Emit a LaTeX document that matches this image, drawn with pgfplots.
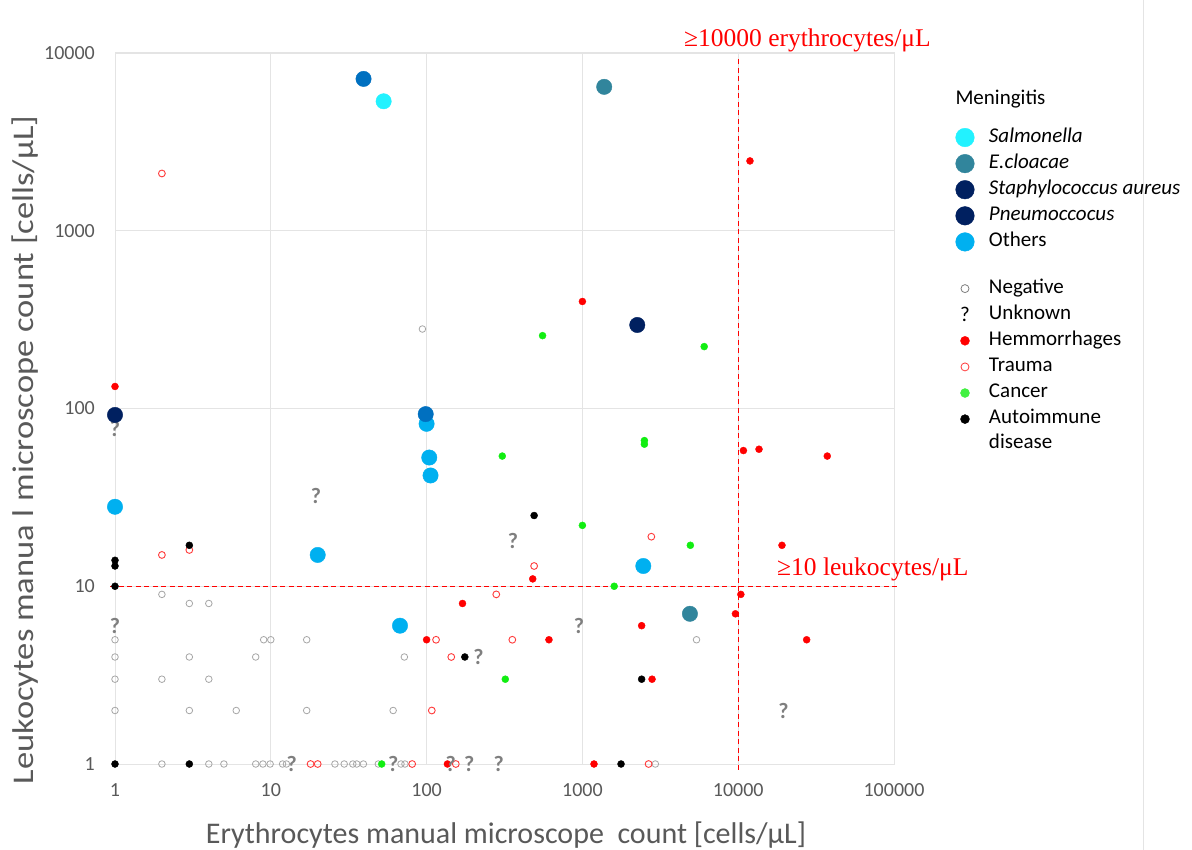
\documentclass[border=0pt]{standalone}
\usepackage{fontspec}
\setmainfont{Carlito}
\newfontfamily\timesfont{Liberation Serif}
\usepackage{graphicx}
\usepackage{pgfplots}
\pgfplotsset{compat=1.18}
\usetikzlibrary{plotmarks}
\definecolor{labgray}{HTML}{595959}
\definecolor{gridgray}{HTML}{E4E4E4}
\definecolor{salm}{HTML}{22F2FF}
\definecolor{ecl}{HTML}{31859C}
\definecolor{navy}{HTML}{002060}
\definecolor{midblue}{HTML}{0070C0}
\definecolor{others}{HTML}{00B0F0}
\definecolor{neg}{HTML}{A6A6A6}
\definecolor{qgray}{HTML}{7F7F7F}
\definecolor{hem}{HTML}{FF0000}
\definecolor{trauma}{HTML}{FF3B3B}
\definecolor{cancer}{HTML}{11EE11}
\newcommand\lab{\fontsize{30}{36}\selectfont}
\begin{document}
\begin{tikzpicture}
\useasboundingbox (0pt,0pt) rectangle (1192pt,-850pt);
\fill[white] (0pt,0pt) rectangle (1192pt,-850pt);
\draw[gridgray, line width=1pt] (1143pt,0pt) -- (1143pt,-850pt);
\begin{axis}[
  at={(115pt,-764pt)}, anchor=south west,
  scale only axis, width=779pt, height=711pt,
  xmode=log, ymode=log,
  xmin=1, xmax=100000, ymin=1, ymax=10000,
  xtick={1,10,100,1000,10000,100000},
  xticklabels={1,10,100,1000,10000,100000},
  ytick={1,10,100,1000,10000},
  yticklabels={1,10,100,1000,10000},
  xminorticks=false, yminorticks=false,
  major tick length=0pt,
  grid=major, grid style={gridgray, line width=0.8pt},
  axis line style={draw=gridgray, line width=1pt},
  tick label style={font=\fontsize{20}{20}\selectfont, text=labgray, inner sep=0pt},
  xticklabel style={anchor=north, yshift=-19pt},
  yticklabel style={anchor=east, xshift=-20pt},
  clip=false,
  legend image code/.code={\path[draw=none,fill=none] (-10pt,-9.5pt) rectangle (10pt,9.5pt); \draw[#1,/tikz/only marks] plot coordinates {(0pt,0pt)};},
  legend style={draw=none, fill=none, at={(1.0783,0.8945)}, anchor=north west,
    inner sep=0pt, outer sep=0pt, row sep=7.1pt, column sep=14pt,
    font=\fontsize{21}{25}\selectfont, cells={anchor=west},
    nodes={inner sep=0pt, text height=14pt, text depth=5pt}},
  legend cell align=left,
]
% Negative
\addplot[forget plot, only marks, mark=o, mark size=3.3pt, color=neg, line width=0.8pt] coordinates {
(1,5)(1,4)(1,3)(1,2)(2,9)(3,8)(4,8)(2,3)(4,3)(3,4)(8,4)(9,5)(10,5)(17,5)(72,4)(3,2)(6,2)(17,2)(61,2)(94,280)(5400,5)(2940,1)
(2,1)(4,1)(5,1)(8,1)(8.9,1)(9.9,1)(11.9,1)(12.6,1)(25.8,1)(29.6,1)(33.6,1)(35.6,1)(39.3,1)(49,1)(68.5,1)(72.6,1)};
% Trauma
\addplot[forget plot, only marks, mark=o, mark size=3.4pt, color=trauma, line width=0.9pt] coordinates {
(2,2100)(2,15)(3,16)(490,13)(2770,19)(280,9)(115,5)(355,5)(144,4)(108,2)(18,1)(20,1)(80.8,1)(154,1)(2660,1)};
% Hemorrhages
\addplot[forget plot, only marks, mark=*, mark size=3.5pt, color=hem] coordinates {
(1,133)(1000,400)(11900,2470)(10800,58)(13600,59)(37300,54)(19100,17)(480,11)(10400,9)(170,8)(9600,7)(2400,6)(100,5)(610,5)(27500,5)(2800,3)(136,1)(1187,1)};
% Cancer
\addplot[forget plot, only marks, mark=*, mark size=3.5pt, color=cancer] coordinates {
(555,257)(6050,223)(2500,63)(2500,66)(306,54)(1000,22)(4930,17)(1600,10)(320,3)(51.5,1)};
% Autoimmune
\addplot[forget plot, only marks, mark=*, mark size=3.5pt, color=black] coordinates {
(1,14)(1,13)(1,10)(3,17)(490,25)(176,4)(2400,3)(1,1)(3,1)(1770,1)};
% Unknown
\addplot[forget plot, only marks, mark=text, text mark={\textcolor{qgray}{\bfseries\fontsize{22}{22}\selectfont ?}}] coordinates {
(1,6)(1,77)(19.5,32)(359,18)(215,4)(950,6)(19500,2)(13.6,1)(61,1)(143,1)(188,1)(290,1)};
% Others
\addplot[forget plot, only marks, mark=*, mark size=7.7pt, color=others] coordinates {
(1,28)(20,15)(67.5,6)(100,82)(104,53)(106,42)(2460,13)};
% Salmonella
\addplot[forget plot, only marks, mark=*, mark size=7.7pt, color=salm] coordinates {(53,5350)};
% E. cloacae
\addplot[forget plot, only marks, mark=*, mark size=7.7pt, color=ecl] coordinates {(1380,6450)(4900,7)};
% other blue
\addplot[forget plot, only marks, mark=*, mark size=7.7pt, color=midblue] coordinates {(39.4,7150)(98.7,93)};
% Staphylococcus aureus
\addplot[forget plot, only marks, mark=*, mark size=7.7pt, color=navy] coordinates {(2250,295)};
% Pneumococcus
\addplot[forget plot, only marks, mark=*, mark size=7.7pt, color=navy] coordinates {(1,92)};

\draw[hem, line width=1.1pt, dash pattern=on 5pt off 3.5pt] (axis cs:10000,0.93) -- (axis cs:10000,9500);
\draw[hem, line width=1.1pt, dash pattern=on 5pt off 3.5pt] (axis cs:0.93,10) -- (axis cs:104500,10);

\addlegendimage{mark=*, mark size=9.3pt, color=salm}\addlegendentry{\textit{Salmonella}}
\addlegendimage{mark=*, mark size=9.3pt, color=ecl}\addlegendentry{\textit{E.cloacae}}
\addlegendimage{mark=*, mark size=9.3pt, color=navy}\addlegendentry{\textit{Staphylococcus aureus}}
\addlegendimage{mark=*, mark size=9.3pt, color=navy}\addlegendentry{\textit{Pneumoccocus}}
\addlegendimage{mark=*, mark size=9.3pt, color=others}\addlegendentry{Others}
\addlegendimage{empty legend}\addlegendentry[text height=13.5pt, text depth=0pt]{}
\addlegendimage{mark=o, mark size=4pt, color=gray, line width=0.8pt}\addlegendentry{Negative}
\addlegendimage{mark=text, text mark={\fontsize{21}{21}\selectfont ?}}\addlegendentry{Unknown}
\addlegendimage{mark=*, mark size=4.5pt, color=hem}\addlegendentry{Hemmorrhages}
\addlegendimage{mark=o, mark size=4pt, color=trauma, line width=0.8pt}\addlegendentry{Trauma}
\addlegendimage{mark=*, mark size=4.5pt, color=cancer!80!white}\addlegendentry{Cancer}
\addlegendimage{mark=*, mark size=4.5pt, color=black}\addlegendentry{\begin{tabular}[t]{@{}l@{}}Autoimmune\\disease\end{tabular}}
\end{axis}
\node[anchor=base west, font=\fontsize{21}{24}\selectfont] at (952pt,-105pt) {Meningitis};
\node[rotate=90, anchor=base, text=labgray] at (33pt,-450pt) {\lab\scalebox{1.15}[1]{Leukocytes manua l microscope count [cells/μL]}};
\node[anchor=base, text=labgray] at (506pt,-843pt) {\lab Erythrocytes manual microscope~~count [cells/μL]};
\node[anchor=base west, text=hem, inner sep=0pt, font=\timesfont\fontsize{25.5}{26}\selectfont] at (684pt,-47pt) {≥10000 erythrocytes/μL};
\node[anchor=base west, text=hem, inner sep=0pt, font=\timesfont\fontsize{25.5}{26}\selectfont] at (777pt,-575pt) {≥10 leukocytes/μL};
\end{tikzpicture}
\end{document}
